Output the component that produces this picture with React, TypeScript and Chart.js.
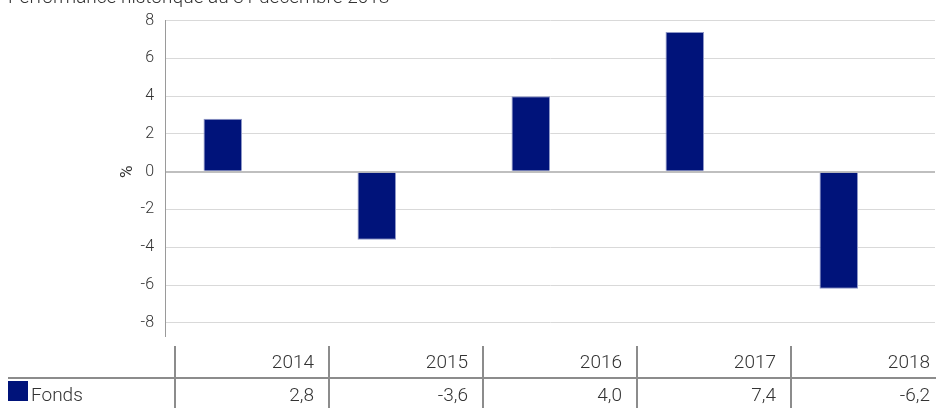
import React, { useEffect, useRef } from "react";
import { Chart, registerables } from "chart.js";

Chart.register(...registerables);

const titleText = "Performance historique au 31 décembre 2018";
const years = ["2014", "2015", "2016", "2017", "2018"];
const fondsValues = [2.8, -3.6, 4.0, 7.4, -6.2];
const fondsLabels = ["2,8", "-3,6", "4,0", "7,4", "-6,2"];
const seriesName = "Fonds";
const yTicks = [-8, -6, -4, -2, 0, 2, 4, 6, 8];
const axisTitle = "%";

const NAVY = "#00137a";
const TEXT = "#333333";
const FONT = "Roboto";

const tablePlugin = {
  id: "tablePlugin",
  afterDraw(chart: any) {
    const ctx = chart.ctx;
    const x = chart.scales.x;
    const y = chart.scales.y;
    ctx.save();
    // title
    ctx.fillStyle = TEXT;
    ctx.font = `300 19px ${FONT}`;
    ctx.textAlign = "left";
    ctx.textBaseline = "alphabetic";
    ctx.fillText(titleText, 8, 3);
    // axis title
    ctx.save();
    ctx.translate(128, y.getPixelForValue(0));
    ctx.rotate(-Math.PI / 2);
    ctx.textAlign = "center";
    ctx.textBaseline = "middle";
    ctx.font = `400 17px ${FONT}`;
    ctx.fillText(axisTitle, 0, 0);
    ctx.restore();

    const colW = x.getPixelForValue(1) - x.getPixelForValue(0);
    const lineColor = "#8c8c8c";
    ctx.strokeStyle = lineColor;
    ctx.lineWidth = 2;
    // horizontal line
    ctx.beginPath();
    ctx.moveTo(8, 378);
    ctx.lineTo(936, 378);
    ctx.stroke();
    ctx.font = `300 19px ${FONT}`;
    years.forEach((yr, i) => {
      const left = x.getPixelForValue(i) - colW / 2 + 10;
      ctx.beginPath();
      ctx.moveTo(left, 346);
      ctx.lineTo(left, 408);
      ctx.stroke();
      ctx.textAlign = "right";
      ctx.textBaseline = "middle";
      ctx.fillStyle = TEXT;
      ctx.fillText(yr, left + colW - 15, 363);
      ctx.fillText(fondsLabels[i], left + colW - 15, 396);
    });
    // legend
    ctx.fillStyle = NAVY;
    ctx.fillRect(8, 381, 20, 20);
    ctx.fillStyle = TEXT;
    ctx.textAlign = "left";
    ctx.textBaseline = "middle";
    ctx.fillText(seriesName, 31, 396);
    ctx.restore();
  },
};

export default function App() {
  const ref = useRef<HTMLCanvasElement | null>(null);
  useEffect(() => {
    if (!ref.current) return;
    const chart = new Chart(ref.current, {
      type: "bar",
      data: {
        labels: years,
        datasets: [
          {
            label: seriesName,
            data: fondsValues,
            backgroundColor: NAVY,
            borderColor: "#8e97c6",
            borderWidth: 1,
            categoryPercentage: 0.5,
            barPercentage: 1,
          },
          {
            label: "",
            data: years.map(() => null),
            backgroundColor: "rgba(0,0,0,0)",
            categoryPercentage: 0.5,
            barPercentage: 1,
          },
        ],
      },
      options: {
        animation: false,
        responsive: true,
        maintainAspectRatio: false,
        layout: { padding: { top: 17, bottom: 72, left: 0, right: 1 } },
        plugins: {
          legend: { display: false },
          tooltip: { enabled: false },
          title: { display: false },
        },
        scales: {
          x: {
            display: false,
          },
          y: {
            min: -8.7,
            max: 8,
            afterBuildTicks: (scale: any) => {
              scale.ticks = yTicks.map((v) => ({ value: v }));
            },
            afterFit: (scale: any) => {
              scale.width = 165;
            },
            ticks: {
              padding: 11,
              color: TEXT,
              font: { family: FONT, size: 16, weight: "300" },
            },
            grid: {
              drawTicks: false,
              color: (c: any) => (c.tick && c.tick.value === 0 ? "#bfbfbf" : "#d9d9d9"),
              lineWidth: (c: any) => (c.tick && c.tick.value === 0 ? 2 : 1),
            },
            border: { display: true, color: "#9a9a9a", width: 1 },
          },
        },
      },
      plugins: [tablePlugin],
    } as any);
    return () => chart.destroy();
  }, []);
  return (
    <div style={{ position: "absolute", left: 0, top: 0, width: 936, height: 408 }}>
      <canvas ref={ref} />
    </div>
  );
}
